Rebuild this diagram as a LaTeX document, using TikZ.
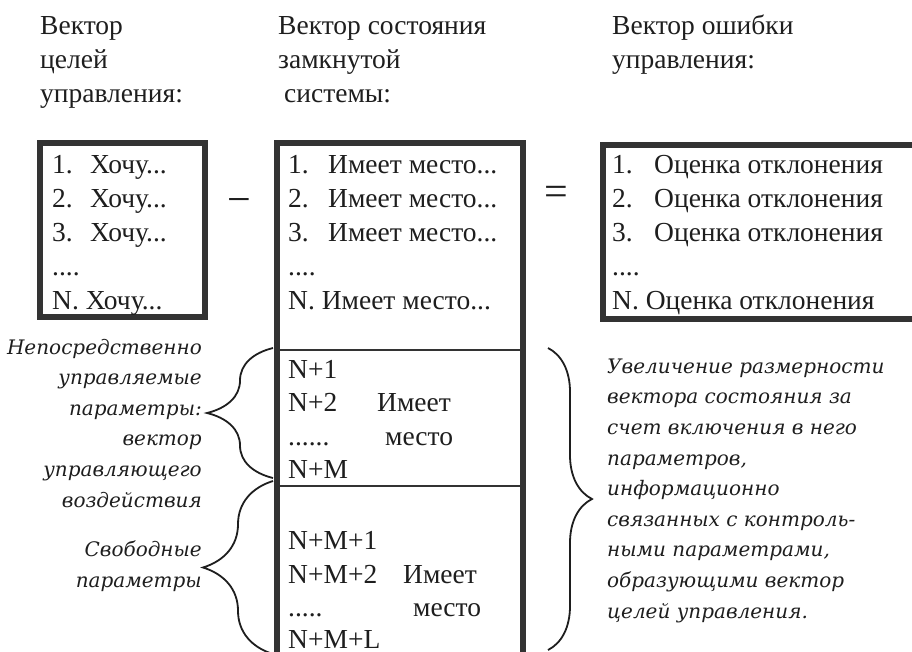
\documentclass[tikz,border=0pt]{standalone}
\usepackage{fontspec}
\setmainfont{Liberation Serif}
\newfontfamily\notefont{DejaVu Serif}
\usetikzlibrary{positioning}
\usetikzlibrary{decorations.pathreplacing}

\definecolor{ink}{HTML}{1E1E1E}
\definecolor{framegray}{HTML}{333333}

\begin{document}
\begin{tikzpicture}[x=1pt,y=-1pt,
	every node/.style={inner sep=0pt,text=ink},
	row/.style={anchor=base west,font=\fontsize{27.5}{34}\selectfont},
	head/.style={anchor=base west,align=left,font=\fontsize{27.5}{34}\selectfont},
	note/.style={font=\notefont\itshape\fontsize{20}{30.6}\selectfont},
	sign/.style={anchor=base,font=\fontsize{42}{42}\selectfont},
	vecbox/.style={draw=framegray,line width=5.5pt},
	divider/.style={draw=framegray,line width=2.2pt},
	curly/.style={draw=ink,line width=1.8pt,decorate,
		decoration={brace,amplitude=#1,aspect=0.5}}]
	\useasboundingbox (0,0) rectangle (912,651);
	\clip (0,0) rectangle (912,651);

	% headers (base = last line)
	\node[head] (hgoal)  at (40,102)  {Вектор\\целей\\управления:};
	\node[head] (hstate) at (278,102) {Вектор состояния\\замкнутой\\\hspace{6pt}системы:};
	\node[head] (herr)   at (612,68)  {Вектор ошибки\\управления:};

	% vectors
	\draw[vecbox] (40,143) rectangle (205,317);
	\draw[vecbox] (277,660) -- (277,143) -- (523,143) -- (523,660);
	\draw[vecbox] (603,145) rectangle (915,319);
	\draw[divider] (277,350) -- (523,350);
	\draw[divider] (277,486) -- (523,486);

	% goal vector
	\node[row] (goal1) at (52,173) {\makebox[38pt][l]{1.}Хочу...};
	\node[row] (goal2) at (52,207) {\makebox[38pt][l]{2.}Хочу...};
	\node[row] (goal3) at (52,241) {\makebox[38pt][l]{3.}Хочу...};
	\node[row] (goaldots) at (52,275) {....};
	\node[row] (goalN) at (52,309) {N. Хочу...};

	\node[sign] (minus) at (239.5,213) {−};

	% state vector
	\node[row] (st1) at (288,173) {\makebox[40pt][l]{1.}Имеет место...};
	\node[row] (st2) at (288,207) {\makebox[40pt][l]{2.}Имеет место...};
	\node[row] (st3) at (288,241) {\makebox[40pt][l]{3.}Имеет место...};
	\node[row] (stdots) at (288,275) {....};
	\node[row] (stN) at (288,309) {N. Имеет место...};

	\node[row] (ctrl1) at (288,378) {N+1};
	\node[row] (ctrl2) at (288,411) {N+2};
	\node[row] (ctrlis) at (377,411) {Имеет};
	\node[row] (ctrldots) at (288,445) {......};
	\node[row] (ctrlplace) at (385,445) {место};
	\node[row] (ctrlM) at (288,478) {N+M};

	\node[row] (free1) at (288,549) {N+M+1};
	\node[row] (free2) at (288,583) {N+M+2};
	\node[row] (freeis) at (403,583) {Имеет};
	\node[row] (freedots) at (288,616) {.....};
	\node[row] (freeplace) at (413,616) {место};
	\node[row] (freeL) at (288,648) {N+M+L};

	\node[sign] (equals) at (556.5,205) {=};

	% error vector
	\node[row] (err1) at (612,173) {\makebox[42pt][l]{1.}Оценка отклонения};
	\node[row] (err2) at (612,207) {\makebox[42pt][l]{2.}Оценка отклонения};
	\node[row] (err3) at (612,241) {\makebox[42pt][l]{3.}Оценка отклонения};
	\node[row] (errdots) at (612,275) {....};
	\node[row] (errN) at (612,309) {N. Оценка отклонения};

	% braces
	\coordinate (ctrltop) at (273,348);
	\coordinate (ctrlbot) at (273,478);
	\coordinate (freetop) at (273,481);
	\coordinate (freebot) at (273,654);
	\coordinate (augtop) at (548,348);
	\coordinate (augbot) at (548,650);
	\draw[curly=66pt] (ctrlbot) -- (ctrltop);
	\draw[curly=70pt] (freebot) -- (freetop);
	\draw[curly=44pt] (augtop) -- (augbot);

	\node[note,align=right,anchor=base east] (ctrlnote) at (202,507)
		{Непосредственно\\управляемые\\параметры:\\вектор\\управляющего\\воздействия};
	\node[note,align=right,anchor=base east] (freenote) at (202,587)
		{Свободные\\параметры};
	\node[note,align=left,anchor=base west] (augnote) at (607,618)
		{Увеличение размерности\\вектора состояния за\\счет включения в него\\параметров,\\информационно\\связанных с контроль-\\ными параметрами,\\образующими вектор\\целей управления.};
\end{tikzpicture}
\end{document}
